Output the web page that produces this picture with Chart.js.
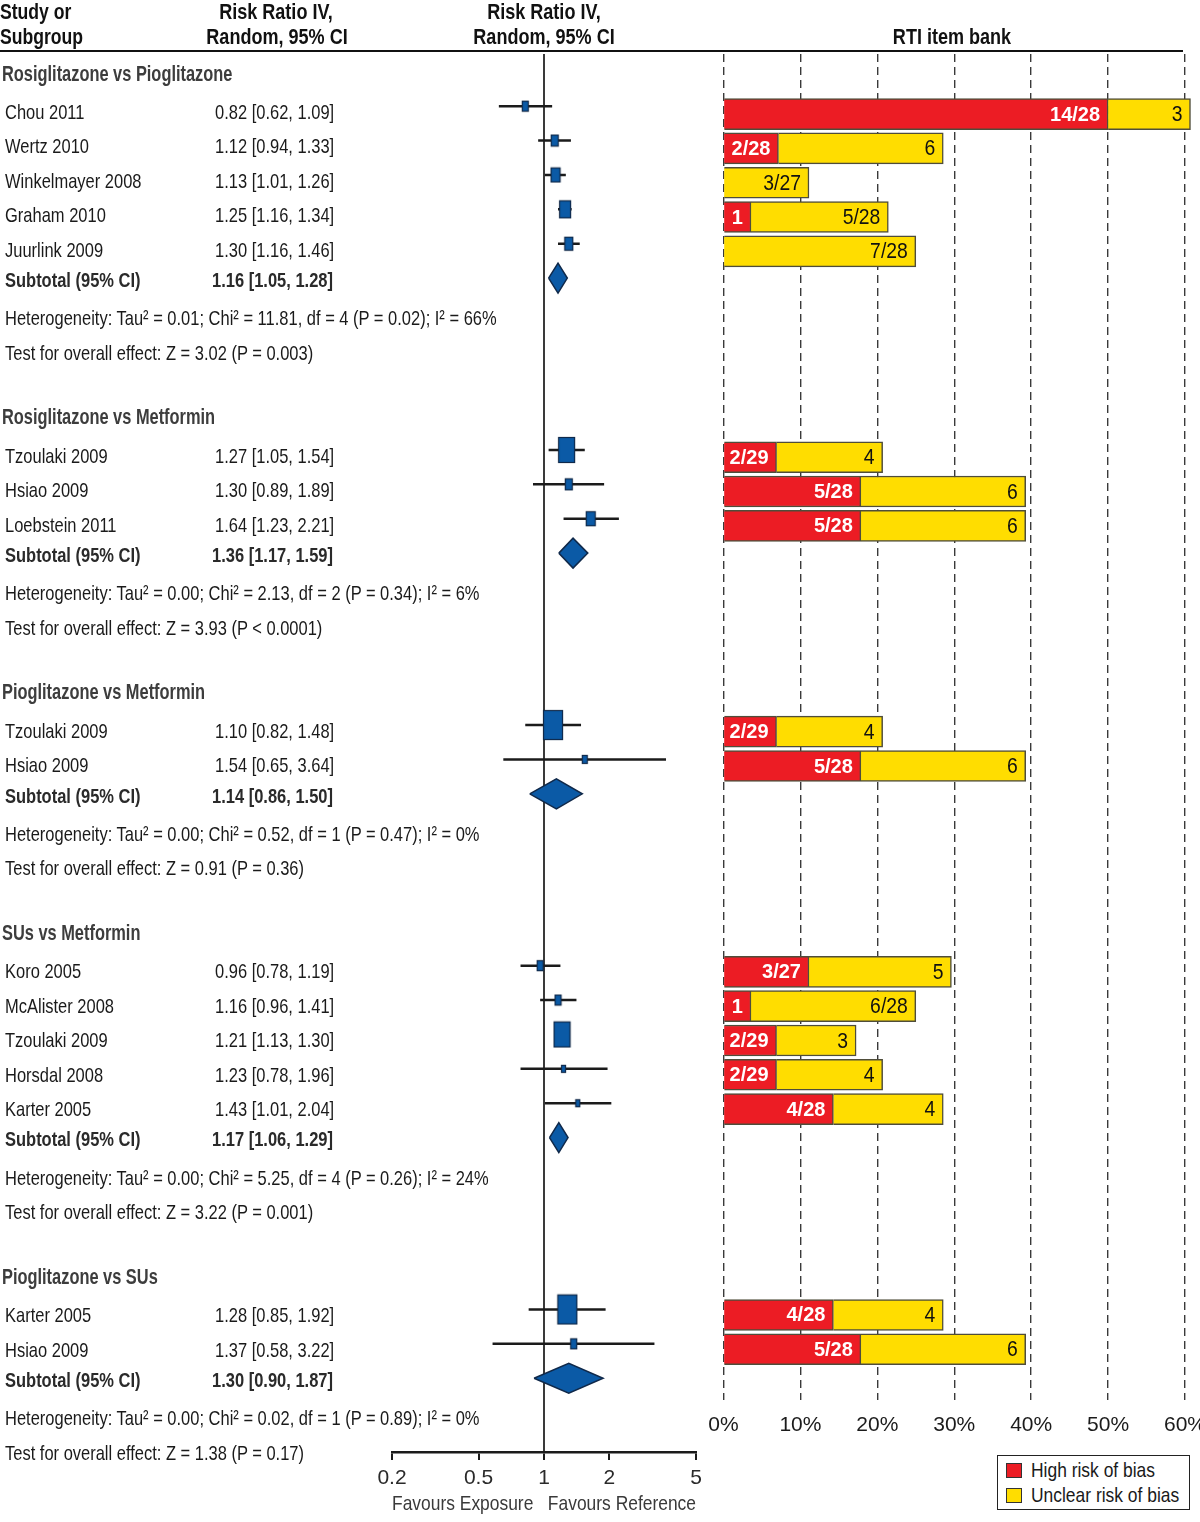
<!DOCTYPE html>
<html>
<head>
<meta charset="utf-8">
<title>Risk ratio forest plot with RTI item bank</title>
<script src="https://cdn.jsdelivr.net/npm/chart.js@4.4.1/dist/chart.umd.min.js"></script>
<style>
  body { margin: 0; background: #fff; }
  #page { position: relative; width: 1200px; height: 1522px; overflow: hidden; background: #fff;
          font-family: "Liberation Sans", Arial, sans-serif; }
  #page canvas { position: absolute; left: 0; top: 0; }
  #rule { position: absolute; left: 0; top: 50px; width: 1183px; height: 2px; background: #111; }

  /* condensed look: the original uses a narrow Helvetica */
  .t { position: absolute; white-space: nowrap; font-size: 21px; line-height: 26px; height: 26px;
       color: #1a1a1a; transform-origin: 0 50%; transform: scaleX(0.785); }
  .t.grp { font-size: 22px; font-weight: bold; color: #3d3d3d; transform: scaleX(0.745); }
  .t.sub { font-weight: bold; color: #2a2a2a; transform: scaleX(0.785); }
  .t.col { font-size: 22px; font-weight: bold; color: #111; transform: scaleX(0.8); }
  .t.col.mid { transform-origin: 50% 50%; transform: translateX(-50%) scaleX(0.82); }

  #legend { position: absolute; left: 997px; top: 1455px; width: 193px; height: 55px;
            box-sizing: border-box; border: 1.5px solid #222; background: #fff; }
  .lg-item { position: absolute; left: 7.5px; height: 26px; width: 180px; }
  .lg-sw { position: absolute; left: 0; top: 6px; width: 16px; height: 15px; box-sizing: border-box;
           border: 1px solid #333; }
  .lg-tx { position: absolute; left: 25px; top: 0; font-size: 21px; line-height: 26px; white-space: nowrap;
           color: #1a1a1a; transform: scaleX(0.83); transform-origin: 0 50%; }
</style>
</head>
<body>
<div id="page">
  <canvas id="forest" width="1200" height="1522"></canvas>
  <canvas id="bias" width="1200" height="1522"></canvas>
  <div id="rule"></div>
  <div id="legend"></div>
</div>
<script>
// ---- data ----
const groups = ['Rosiglitazone vs Pioglitazone', 'Rosiglitazone vs Metformin', 'Pioglitazone vs Metformin',
                'SUs vs Metformin', 'Pioglitazone vs SUs'];
const heterogeneity = [
  'Heterogeneity: Tau² = 0.01; Chi² = 11.81, df = 4 (P = 0.02); I² = 66%',
  'Heterogeneity: Tau² = 0.00; Chi² = 2.13, df = 2 (P = 0.34); I² = 6%',
  'Heterogeneity: Tau² = 0.00; Chi² = 0.52, df = 1 (P = 0.47); I² = 0%',
  'Heterogeneity: Tau² = 0.00; Chi² = 5.25, df = 4 (P = 0.26); I² = 24%',
  'Heterogeneity: Tau² = 0.00; Chi² = 0.02, df = 1 (P = 0.89); I² = 0%'
];
const overallEffect = [
  'Test for overall effect: Z = 3.02 (P = 0.003)',
  'Test for overall effect: Z = 3.93 (P < 0.0001)',
  'Test for overall effect: Z = 0.91 (P = 0.36)',
  'Test for overall effect: Z = 3.22 (P = 0.001)',
  'Test for overall effect: Z = 1.38 (P = 0.17)'
];

const studyGroup = [0, 0, 0, 0, 0, 1, 1, 1, 2, 2, 3, 3, 3, 3, 3, 4, 4];
const studyNames = ['Chou 2011', 'Wertz 2010', 'Winkelmayer 2008', 'Graham 2010', 'Juurlink 2009',
                    'Tzoulaki 2009', 'Hsiao 2009', 'Loebstein 2011',
                    'Tzoulaki 2009', 'Hsiao 2009',
                    'Koro 2005', 'McAlister 2008', 'Tzoulaki 2009', 'Horsdal 2008', 'Karter 2005',
                    'Karter 2005', 'Hsiao 2009'];
const riskRatio = [0.82, 1.12, 1.13, 1.25, 1.30, 1.27, 1.30, 1.64, 1.10, 1.54, 0.96, 1.16, 1.21, 1.23, 1.43, 1.28, 1.37];
const ciLower   = [0.62, 0.94, 1.01, 1.16, 1.16, 1.05, 0.89, 1.23, 0.82, 0.65, 0.78, 0.96, 1.13, 0.78, 1.01, 0.85, 0.58];
const ciUpper   = [1.09, 1.33, 1.26, 1.34, 1.46, 1.54, 1.89, 2.21, 1.48, 3.64, 1.19, 1.41, 1.30, 1.96, 2.04, 1.92, 3.22];
// weight (%) within subgroup
const studyWeight = [11, 15, 24.5, 30, 19.5, 66, 13, 21, 93, 7, 12, 12, 63, 6.5, 6.5, 88, 12];

const subtotalRR    = [1.16, 1.36, 1.14, 1.17, 1.30];
const subtotalLower = [1.05, 1.17, 0.86, 1.06, 0.90];
const subtotalUpper = [1.28, 1.59, 1.50, 1.29, 1.87];

// RTI item bank: items rated high / unclear risk, out of the items applicable
const highRisk    = [14, 2, 0, 1, 0, 2, 5, 5, 2, 5, 3, 1, 2, 2, 4, 4, 5];
const unclearRisk = [3, 6, 3, 5, 7, 4, 6, 6, 4, 6, 5, 6, 3, 4, 4, 4, 6];
const itemTotal   = [28, 28, 27, 28, 28, 29, 28, 28, 29, 28, 27, 28, 29, 29, 28, 28, 28];

const rrTicks = [0.2, 0.5, 1, 2, 5];
const pctTicks = [0, 10, 20, 30, 40, 50, 60];
const favours = ['Favours Exposure', 'Favours Reference'];
const biasLabels = ['High risk of bias', 'Unclear risk of bias'];

// ---- look ----
const BLUE = '#0b5aa6';
const BLUE_EDGE = '#10294a';
const RED = '#ec1c24';
const YELLOW = '#ffdd00';
const BAR_EDGE = '#4f4d3a';
const CANVAS_FONT = '"Liberation Sans Narrow", "Liberation Sans", Arial, sans-serif';

const ROW_PX = 34.38;          // height of one text row
const TEXT_ROW0 = 77.6;        // y of row 0 text
const FOREST_ROW0 = 71.8;      // forest marks sit a little higher than the text
const BAR_ROW0 = 79.8;
const BAR_ROW_PX = 34.31;
const DIAMOND_HALF = 15 / ROW_PX;

// ---- row layout ----
const rowOfStudy = [];
const rowOfSubtotal = [];
const textRows = [];
function fmtCI(v, lo, hi) {
  return v.toFixed(2) + ' [' + lo.toFixed(2) + ', ' + hi.toFixed(2) + ']';
}
let row = 0;
groups.forEach((name, g) => {
  textRows.push({ row: row++, kind: 'grp', text: name });
  studyGroup.forEach((sg, i) => {
    if (sg !== g) return;
    rowOfStudy[i] = row;
    textRows.push({ row: row++, kind: 'study', text: studyNames[i], ci: fmtCI(riskRatio[i], ciLower[i], ciUpper[i]) });
  });
  rowOfSubtotal[g] = row;
  textRows.push({ row: row++, kind: 'sub', text: 'Subtotal (95% CI)',
                  ci: fmtCI(subtotalRR[g], subtotalLower[g], subtotalUpper[g]) });
  textRows.push({ row: row++, kind: 'note', text: heterogeneity[g] });
  textRows.push({ row: row++, kind: 'note', text: overallEffect[g] });
  row++; // blank line between subgroups
});

// ---- text columns ----
const page = document.getElementById('page');
function addText(text, x, cy, cls) {
  const el = document.createElement('div');
  el.className = 't ' + (cls || '');
  el.textContent = text;
  el.style.left = x + 'px';
  el.style.top = (cy - 13) + 'px';
  page.appendChild(el);
}
addText('Study or', 0, 12, 'col');
addText('Subgroup', 0, 36.5, 'col');
addText('Risk Ratio IV,', 276, 12, 'col mid');
addText('Random, 95% CI', 277, 36.5, 'col mid');
addText('Risk Ratio IV,', 544, 12, 'col mid');
addText('Random, 95% CI', 544, 36.5, 'col mid');
addText('RTI item bank', 952, 36.5, 'col mid');

textRows.forEach(r => {
  const y = TEXT_ROW0 + ROW_PX * r.row;
  if (r.kind === 'grp') addText(r.text, 2, y - 4, 'grp');
  else if (r.kind === 'sub') { addText(r.text, 5, y - 4, 'sub'); addText(r.ci, 212, y - 4, 'sub'); }
  else if (r.kind === 'study') { addText(r.text, 5, y); addText(r.ci, 215, y); }
  else addText(r.text, 5, y);
});

// ---- forest plot ----
function boxMark(w) {
  const bw = Math.max(5, Math.round(2.1 * Math.sqrt(w)));
  const bh = Math.round(bw * 1.5);
  const c = document.createElement('canvas');
  c.width = bw + 2;
  c.height = bh + 2;
  const g = c.getContext('2d');
  g.fillStyle = BLUE;
  g.fillRect(1, 1, bw, bh);
  g.strokeStyle = BLUE_EDGE;
  g.lineWidth = 1.2;
  g.strokeRect(1.5, 1.5, bw - 1, bh - 1);
  return c;
}
const boxMarks = studyWeight.map(boxMark);

const ciSegments = [];
studyNames.forEach((s, i) => {
  ciSegments.push({ x: ciLower[i], y: rowOfStudy[i] }, { x: ciUpper[i], y: rowOfStudy[i] }, { x: ciUpper[i], y: null });
});

const diamondSets = subtotalRR.map((v, g) => {
  const r = rowOfSubtotal[g];
  return {
    label: 'Subtotal ' + groups[g],
    data: [
      { x: subtotalLower[g], y: r }, { x: v, y: r - DIAMOND_HALF },
      { x: subtotalUpper[g], y: r }, { x: v, y: r + DIAMOND_HALF },
      { x: subtotalLower[g], y: r }
    ],
    showLine: true,
    fill: 'shape',
    backgroundColor: BLUE,
    borderColor: BLUE_EDGE,
    borderWidth: 1.5,
    borderJoinStyle: 'miter',
    pointRadius: 0,
    tension: 0,
    order: 1
  };
});

const FOREST_TOP = 54, FOREST_BOTTOM = 1452;
new Chart(document.getElementById('forest'), {
  type: 'scatter',
  data: {
    datasets: [
      {
        label: 'Study risk ratio',
        data: studyNames.map((s, i) => ({ x: riskRatio[i], y: rowOfStudy[i] })),
        pointStyle: ctx => boxMarks[ctx.dataIndex],
        pointRadius: 4,
        order: 0
      },
      ...diamondSets,
      {
        label: '95% CI',
        data: ciSegments,
        showLine: true,
        borderColor: '#1b1b1b',
        borderWidth: 2.5,
        pointRadius: 0,
        order: 2
      }
    ]
  },
  options: {
    responsive: false,
    animation: false,
    events: [],
    layout: { padding: { left: 392, right: 1200 - 696, top: FOREST_TOP, bottom: 0 } },
    plugins: { legend: { display: false }, tooltip: { enabled: false } },
    scales: {
      x: {
        type: 'logarithmic',
        min: rrTicks[0],
        max: rrTicks[rrTicks.length - 1],
        afterBuildTicks: scale => { scale.ticks = rrTicks.map(v => ({ value: v })); },
        afterFit: scale => { scale.height = 1522 - FOREST_BOTTOM; },
        ticks: {
          autoSkip: false,
          maxRotation: 0,
          padding: 6,
          color: '#2a2a2a',
          font: { family: CANVAS_FONT, size: 21 },
          callback: v => String(v)
        },
        grid: {
          color: ctx => (ctx.tick && ctx.tick.value === 1 ? '#3a3a3a' : 'rgba(0,0,0,0)'),
          lineWidth: 2,
          tickColor: '#1b1b1b',
          tickLength: 8
        },
        border: { display: true, color: '#1b1b1b', width: 2.5 },
        title: {
          display: true,
          text: favours.join('   '),
          color: '#3a3a3a',
          font: { family: CANVAS_FONT, size: 21 },
          padding: { top: 0, bottom: 5 }
        }
      },
      y: {
        type: 'linear',
        reverse: true,
        display: false,
        offset: false,
        min: (FOREST_TOP - FOREST_ROW0) / ROW_PX,
        max: (FOREST_BOTTOM - FOREST_ROW0) / ROW_PX
      }
    }
  }
});

// ---- RTI item bank bars ----
const highPct = highRisk.map((h, i) => h / itemTotal[i] * 100);
const unclearPct = unclearRisk.map((u, i) => u / itemTotal[i] * 100);

function segmentLabel(di, i) {
  const h = highRisk[i], u = unclearRisk[i], n = itemTotal[i];
  if (di === 0) return h === 0 ? '' : (h > 1 ? h + '/' + n : String(h));
  return h > 1 ? String(u) : u + '/' + n;
}

const barLabels = {
  id: 'barLabels',
  afterDatasetsDraw(chart) {
    const ctx = chart.ctx;
    chart.data.datasets.forEach((ds, di) => {
      chart.getDatasetMeta(di).data.forEach((bar, i) => {
        const text = segmentLabel(di, i);
        if (!text) return;
        ctx.save();
        ctx.translate(bar.x - 8, bar.y + 1);
        if (di === 0) {
          ctx.font = 'bold 20px "Liberation Sans", Arial, sans-serif';
          ctx.fillStyle = '#fff';
        } else {
          ctx.scale(0.88, 1);
          ctx.font = '22px "Liberation Sans", Arial, sans-serif';
          ctx.fillStyle = '#111';
        }
        ctx.textAlign = 'right';
        ctx.textBaseline = 'middle';
        ctx.fillText(text, 0, 0);
        ctx.restore();
      });
    });
  }
};

const BAR_TOP = 54, BAR_BOTTOM = 1400;
const biasChart = new Chart(document.getElementById('bias'), {
  type: 'bar',
  data: {
    datasets: [
      {
        label: biasLabels[0],
        data: highPct.map((v, i) => ({ x: v > 0 ? v : null, y: rowOfStudy[i] })),
        backgroundColor: RED
      },
      {
        label: biasLabels[1],
        data: unclearPct.map((v, i) => ({ x: v, y: rowOfStudy[i] })),
        backgroundColor: YELLOW
      }
    ].map(ds => Object.assign(ds, { borderColor: BAR_EDGE, borderWidth: 1.5, barThickness: 31, clip: false }))
  },
  options: {
    indexAxis: 'y',
    responsive: false,
    animation: false,
    events: [],
    layout: { padding: { left: 723.5, right: 15, top: BAR_TOP, bottom: 0 } },
    plugins: { legend: { display: false }, tooltip: { enabled: false } },
    scales: {
      x: {
        type: 'linear',
        stacked: true,
        min: pctTicks[0],
        max: pctTicks[pctTicks.length - 1],
        afterBuildTicks: scale => { scale.ticks = pctTicks.map(v => ({ value: v })); },
        afterFit: scale => { scale.height = 1522 - BAR_BOTTOM; scale.paddingLeft = 0; scale.paddingRight = 0; },
        ticks: {
          padding: 13,
          color: '#1b1b1b',
          font: { family: CANVAS_FONT, size: 21 },
          callback: v => v + '%'
        },
        grid: { color: '#3a3a3a', lineWidth: 1.4, drawTicks: false },
        border: { display: false, dash: [8, 5] }
      },
      y: {
        type: 'linear',
        stacked: true,
        reverse: true,
        display: false,
        offset: false,
        grid: { offset: false },
        min: (BAR_TOP - BAR_ROW0) / BAR_ROW_PX,
        max: (BAR_BOTTOM - BAR_ROW0) / BAR_ROW_PX
      }
    }
  },
  plugins: [barLabels]
});

// legend box built from the bar datasets
const legend = document.getElementById('legend');
biasChart.data.datasets.forEach((ds, i) => {
  const item = document.createElement('div');
  item.className = 'lg-item';
  item.style.top = (0.5 + 25 * i) + 'px';
  const sw = document.createElement('span');
  sw.className = 'lg-sw';
  sw.style.background = ds.backgroundColor;
  const tx = document.createElement('span');
  tx.className = 'lg-tx';
  tx.textContent = ds.label;
  item.appendChild(sw);
  item.appendChild(tx);
  legend.appendChild(item);
});
</script>
</body>
</html>
